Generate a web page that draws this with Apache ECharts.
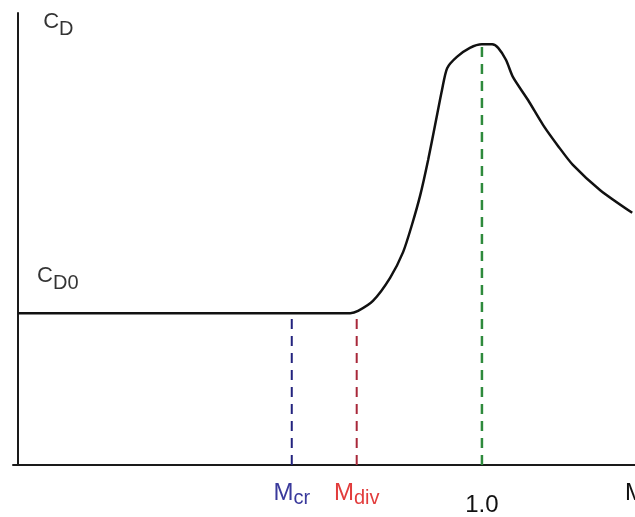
<!DOCTYPE html>
<html>
<head>
<meta charset="utf-8">
<script src="https://cdn.jsdelivr.net/npm/echarts@6/dist/echarts.min.js"></script>
<style>
html,body{margin:0;padding:0;background:#fff;}
#chart{width:635px;height:517px;}
</style>
</head>
<body>
<div id="chart"></div>
<script>
// ---- data ----
const machValues = [0, 0.716, 0.733, 0.765, 0.802, 0.830, 0.849, 0.867, 0.884, 0.899, 0.914, 0.925, 0.946, 0.974, 1.000, 1.022, 1.035, 1.052, 1.067, 1.099, 1.132, 1.164, 1.196, 1.255, 1.324];
const cdValues   = [0.336, 0.336, 0.341, 0.363, 0.414, 0.471, 0.531, 0.597, 0.675, 0.752, 0.830, 0.878, 0.903, 0.923, 0.931, 0.931, 0.923, 0.896, 0.858, 0.808, 0.752, 0.706, 0.664, 0.608, 0.558];
const cd0 = 0.336;
const machCr = 0.59;
const machDiv = 0.73;
const machOne = 1.0;
const cdPeak = 0.931;
const tickValues = [0.59, 0.73, 1.0, 1.33];
const tickLabels = ['{mb|M}{sb|cr}', '{mr|M}{sr|div}', '{n1|1.0}', '{nm|M}'];
const yLabelTexts = ['{c|C}{s|D}', '{c|C}{s|D0}'];

// ---- layout (label anchors, not marks) ----
const yLabelAnchors = [[0.054, 0.980], [0.041, 0.418]];

const FONT = "'Liberation Sans', Arial, Helvetica, sans-serif";
const chart = echarts.init(document.getElementById('chart'), null, {renderer: 'canvas'});

const curve = machValues.map((x, i) => [x, cdValues[i]]);

chart.setOption({
  animation: false,
  backgroundColor: '#ffffff',
  grid: {left: 13, right: 0, top: 13, bottom: 52, containLabel: false, outerBoundsMode: 'none'},
  xAxis: {
    type: 'value', min: -0.011, max: 1.33,
    splitLine: {show: false},
    axisTick: {show: false},
    axisLine: {show: true, onZero: true, lineStyle: {color: '#1a1a1a', width: 2}},
    axisLabel: {
      show: true,
      customValues: tickValues,
      margin: 13,
      hideOverlap: false,
      showMaxLabel: true,
      fontFamily: FONT,
      formatter: function (v) {
        for (let i = 0; i < tickValues.length; i++) {
          if (Math.abs(tickValues[i] - v) < 1e-6) return tickLabels[i];
        }
        return '';
      },
      rich: {
        mb: {fontFamily: FONT, fontSize: 24, color: '#3a3a9c'},
        sb: {fontFamily: FONT, fontSize: 20, color: '#3a3a9c', padding: [10, 0, 0, 0]},
        mr: {fontFamily: FONT, fontSize: 24, color: '#e23c3c'},
        sr: {fontFamily: FONT, fontSize: 20, color: '#e23c3c', padding: [10, 0, 0, 0]},
        n1: {fontFamily: FONT, fontSize: 24, color: '#111', padding: [15, 0, 0, 0]},
        nm: {fontFamily: FONT, fontSize: 24, color: '#111', padding: [3, 0, 0, 0]}
      }
    }
  },
  yAxis: {
    type: 'value', min: 0, max: 1,
    splitLine: {show: false},
    axisTick: {show: false},
    axisLabel: {show: false},
    axisLine: {show: true, onZero: true, lineStyle: {color: '#1a1a1a', width: 2}}
  },
  series: [
    {
      type: 'line', name: 'mcr',
      data: [[machCr, 0], [machCr, cd0]],
      showSymbol: false, silent: true,
      lineStyle: {color: '#23237e', width: 2, type: [10, 7]}
    },
    {
      type: 'line', name: 'mdiv',
      data: [[machDiv, 0], [machDiv, cd0]],
      showSymbol: false, silent: true,
      lineStyle: {color: '#a8283a', width: 2, type: [10, 7]}
    },
    {
      type: 'line', name: 'one',
      data: [[machOne, 0], [machOne, cdPeak]],
      showSymbol: false, silent: true,
      lineStyle: {color: '#2e8a3c', width: 2.5, type: [10, 7]}
    },
    {
      type: 'line', name: 'cd',
      data: curve,
      showSymbol: false, silent: true,
      smooth: 0.25,
      lineStyle: {color: '#111', width: 2.5}
    },
    {
      type: 'scatter', name: 'ylabels',
      symbolSize: 0, silent: true, clip: false,
      data: yLabelAnchors.map((p, i) => ({value: p, label: {formatter: yLabelTexts[i]}})),
      label: {
        show: true, position: 'right', distance: 0, color: '#000',
        align: 'left', verticalAlign: 'middle',
        rich: {
          c: {fontFamily: FONT, fontSize: 22, color: '#000'},
          s: {fontFamily: FONT, fontSize: 20, color: '#000', padding: [14, 0, 0, 0]}
        }
      }
    }
  ]
});
</script>
</body>
</html>
